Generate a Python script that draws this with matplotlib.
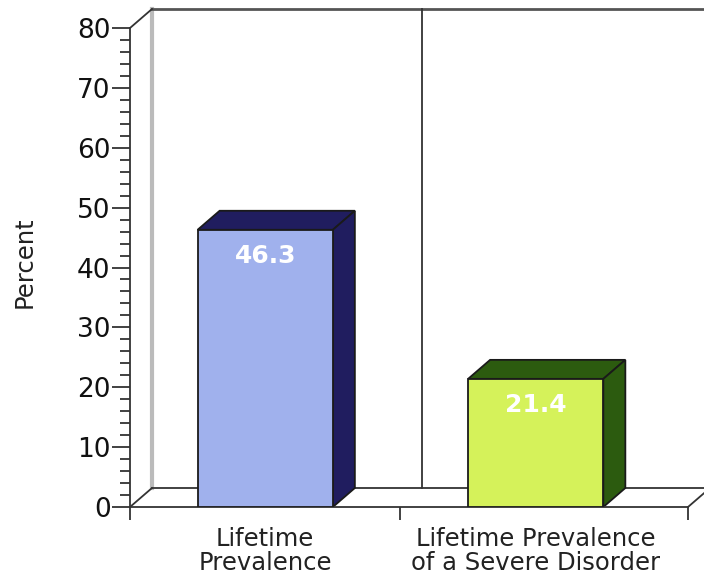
import matplotlib.pyplot as plt
import numpy as np
from matplotlib.patches import Polygon

categories = ['Lifetime\nPrevalence', 'Lifetime Prevalence\nof a Severe Disorder']
values = [46.3, 21.4]
front_colors = ['#a0b1ed', '#d5f25a']
dark_colors = ['#201d5f', '#2c5b0f']

W, H = 704, 577
fig = plt.figure(figsize=(W / 100, H / 100), dpi=100)

# front plane of the box, in pixels
left, right, bottom, top = 130, 688, 507, 28
ax = fig.add_axes([left / W, 1 - bottom / H, (right - left) / W, (bottom - top) / H])
x0, x1 = -0.5, 1.563
ax.set_xlim(x0, x1)
ax.set_ylim(0, 80)

# depth of the fake 3d, in pixels -> data units
ddx = 22 * (x1 - x0) / (right - left)
ddy = 19 * 80 / (bottom - top)

line_kw = dict(color='#333333', lw=1.3, clip_on=False)

# back wall and floor
ax.plot([x0 + ddx, x0 + ddx], [ddy, 80 + ddy], color='#bbbbbb', lw=3, clip_on=False, zorder=1)
ax.plot([x0 + ddx, x1 + 1], [80 + ddy, 80 + ddy], color='#555555', lw=2, clip_on=False, zorder=1)
ax.plot([x0, x0 + ddx], [80, 80 + ddy], **line_kw, zorder=1)
ax.plot([x0, x0 + ddx], [0, ddy], **line_kw, zorder=1)
ax.plot([x0 + ddx, x1 + 1], [ddy, ddy], **line_kw, zorder=1)
ax.plot([0.5 + ddx, 0.5 + ddx], [ddy, 80 + ddy], **line_kw, zorder=1)
ax.plot([x1, x1 + ddx], [0, ddy], **line_kw, zorder=1)

# bars
xs = np.arange(len(values))
w = 0.5
ax.bar(xs, values, width=w, color=front_colors, edgecolor='#1a1a1a', lw=1.3, zorder=3)
for x, v, c in zip(xs, values, dark_colors):
    top_face = [(x - w / 2, v), (x - w / 2 + ddx, v + ddy), (x + w / 2 + ddx, v + ddy), (x + w / 2, v)]
    side_face = [(x + w / 2, 0), (x + w / 2, v), (x + w / 2 + ddx, v + ddy), (x + w / 2 + ddx, ddy)]
    for pts in (top_face, side_face):
        ax.add_patch(Polygon(pts, closed=True, facecolor=c, edgecolor='#1a1a1a', lw=1.3, zorder=2))
    ax.text(x, v - 4.3, f'{v:.1f}', color='white', fontsize=18, fontweight='bold',
            ha='center', va='center', zorder=4)

# axes
for s in ['top', 'right']:
    ax.spines[s].set_visible(False)
ax.spines['left'].set_color('#333333')
ax.spines['bottom'].set_color('#333333')
ax.spines['left'].set_linewidth(1.3)
ax.spines['bottom'].set_linewidth(1.3)

ax.set_yticks(np.arange(0, 81, 10))
ax.set_yticks(np.arange(0, 81, 2), minor=True)
ax.tick_params(axis='y', which='major', length=13, width=1.3, color='#333333', labelsize=19,
               labelcolor='#111111', pad=1)
ax.tick_params(axis='y', which='minor', length=7, width=1.3, color='#333333')

ax.set_xticks([x0, 0.5, x1])
ax.set_xticklabels([])
ax.tick_params(axis='x', which='major', length=9, width=1.3, color='#333333')
for x, lab in zip(xs, categories):
    ax.text(x, -3.4, lab, ha='center', va='top', fontsize=17.5, color='#222222',
            linespacing=1.0, transform=ax.transData)

fig.text(25 / W, 1 - 262 / H, 'Percent', rotation=90, ha='center', va='center', fontsize=17.5, color='#222222')

fig.savefig('out.png', dpi=100)
